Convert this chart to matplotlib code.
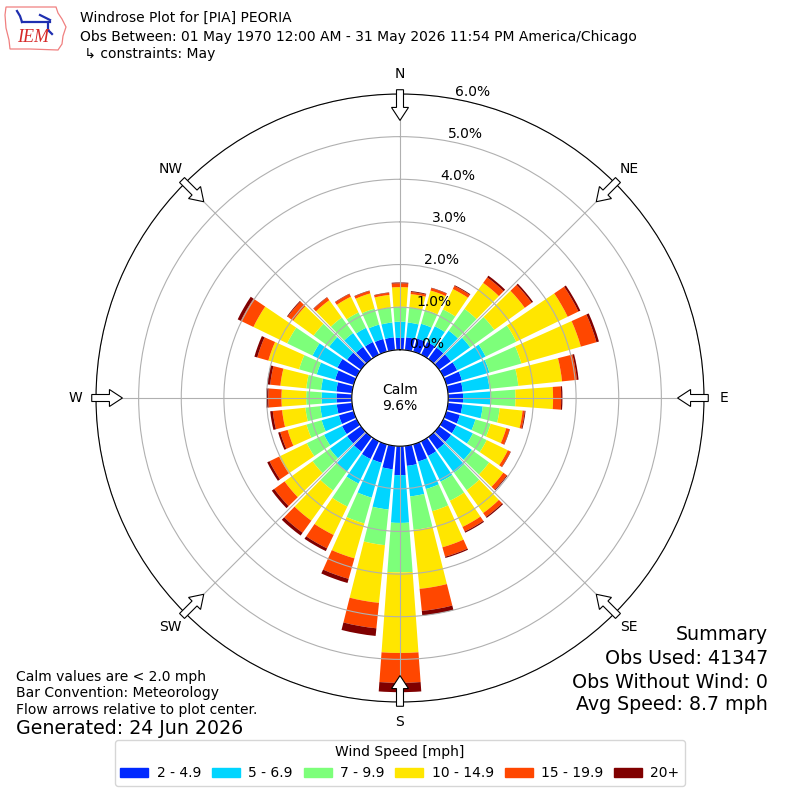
import numpy as np
import matplotlib
matplotlib.use('Agg')
import matplotlib.pyplot as plt
from matplotlib.patches import Patch, FancyArrow, Polygon
from matplotlib.lines import Line2D
from matplotlib.transforms import IdentityTransform

# direction bins (deg, meteorology convention), 10 deg wide
directions = np.arange(0, 360, 10)

# percent of all obs per direction bin, one list per speed class
spd_2_5 = [.28, .30, .32, .33, .33, .34, .36, .38, .35, .35, .34, .33,
           .34, .35, .36, .38, .42, .47, .68, .55, .45, .46, .42, .40,
           .38, .36, .36, .36, .37, .45, .50, .40, .35, .33, .31, .30]
spd_5_7 = [.38, .35, .36, .41, .49, .56, .74, .67, .63, .64, .48, .38,
           .43, .60, .67, .67, .67, .72, 1.12, .95, .85, .64, .58, .50,
           .47, .42, .39, .35, .36, .45, .65, .52, .40, .37, .35, .35]
spd_7_10 = [.35, .35, .34, .44, .63, .70, .80, .78, .68, .59, .40, .37,
            .36, .50, .51, .50, .54, .79, 1.16, .84, .63, .60, .55, .50,
            .45, .37, .35, .36, .35, .43, .66, .45, .45, .40, .39, .35]
spd_10_15 = [.46, .32, .47, .53, .75, .88, 1.34, 1.45, 1.03, .88, .54, .38,
             .55, .41, .66, .68, .88, 1.39, 1.89, 1.36, .85, .74, .87, .81,
             .72, .46, .55, .58, .61, .75, .88, .59, .50, .41, .37, .30]
spd_15_20 = [.09, .05, .06, .08, .16, .20, .28, .38, .35, .19, .05, .08,
             .07, .10, .11, .12, .23, .52, .70, .60, .50, .35, .35, .30,
             .25, .18, .22, .31, .24, .27, .33, .16, .08, .07, .06, .05]
spd_20p = [.02, .02, .01, .02, .05, .04, .05, .06, .04, .03, .02, .01,
           .01, .02, .03, .03, .03, .11, .22, .18, .10, .07, .08, .07,
           .06, .05, .06, .05, .07, .07, .08, .02, .01, .01, .01, .01]

speed_labels = ['2 - 4.9', '5 - 6.9', '7 - 9.9', '10 - 14.9', '15 - 19.9', '20+']
calm_pct = 9.6
rings = [0, 1, 2, 3, 4, 5, 6]

series = [spd_2_5, spd_5_7, spd_7_10, spd_10_15, spd_15_20, spd_20p]
colors = plt.cm.jet(np.linspace(0, 1, 7))[1:]

fig = plt.figure(figsize=(8, 8), dpi=100)
ax = fig.add_axes([0.12, 0.1225, 0.76, 0.76], projection='polar')
ax.set_theta_zero_location('N')
ax.set_theta_direction(-1)
ax.set_ylim(0, 6)
ax.set_rorigin(-1.13)  # hole in the middle for calm

theta = np.deg2rad(directions)
bottom = np.zeros(len(directions))
for vals, col in zip(series, colors):
    vals = np.array(vals)
    ax.bar(theta, vals, width=np.deg2rad(8.3), bottom=bottom, color=col,
           edgecolor='none', zorder=1)
    bottom += vals

ax.set_rgrids(rings, labels=['%.1f%%' % r for r in rings], angle=10.5)
ax.set_thetagrids(range(0, 360, 45), ['N', 'NE', 'E', 'SE', 'S', 'SW', 'W', 'NW'])
ax.tick_params(axis='x', pad=4, labelsize=10)
ax.tick_params(axis='y', labelsize=10)
ax.grid(True, color='#b0b0b0', lw=0.8)

# flow arrows around the edge (drawn in pixel space)
fig.canvas.draw()
for a in range(0, 360, 45):
    th = np.deg2rad(a)
    x0, y0 = ax.transData.transform((th, 6.1))
    x1, y1 = ax.transData.transform((th, 5.38))
    arr = FancyArrow(x0, y0, x1 - x0, y1 - y0, width=7, head_width=17,
                     head_length=13, length_includes_head=True,
                     fc='white', ec='black', lw=0.8,
                     transform=IdentityTransform(), zorder=5)
    fig.add_artist(arr)

fig.text(0.5, 1 - 398 / 800., 'Calm\n%.1f%%' % calm_pct, ha='center',
         va='center', fontsize=10)

# header
fig.text(0.1, 0.9775, 'Windrose Plot for [PIA] PEORIA', va='center', fontsize=10)
fig.text(0.1, 0.95375, 'Obs Between: 01 May 1970 12:00 AM - 31 May 2026 11:54 PM America/Chicago',
         va='center', fontsize=10)
fig.text(0.1, 0.9325, ' \u21b3 constraints: May', va='center', fontsize=10)

# logo (rough)
iowa = [(6, 7), (56, 7), (58, 13), (62, 19), (66, 27), (63, 36), (62, 44),
        (58, 50), (30, 49), (10, 49), (9, 40), (6, 28), (5, 15)]
fig.add_artist(Polygon([(x, 800 - y) for x, y in iowa], closed=True, fill=False,
                       ec='#f08080', lw=0.9, transform=IdentityTransform()))
for xs, ys in [([17, 20, 22], [11, 16, 22]), ([22, 50], [22, 22]),
               ([40, 46, 50], [15, 18, 20]), ([48, 48, 52], [22, 30, 34])]:
    fig.add_artist(Line2D(xs, [800 - y for y in ys], color='#1f2fb0', lw=1.6,
                          transform=IdentityTransform()))
fig.text(17 / 800., 1 - 38 / 800., 'IEM', color='#d62828', fontsize=13,
         family='Liberation Serif', style='italic', va='center')

# notes, bottom left
fig.text(0.02, 1 - 677 / 800., 'Calm values are < 2.0 mph', va='center', fontsize=10)
fig.text(0.02, 1 - 693 / 800., 'Bar Convention: Meteorology', va='center', fontsize=10)
fig.text(0.02, 1 - 710 / 800., 'Flow arrows relative to plot center.', va='center', fontsize=10)
fig.text(0.02, 1 - 729 / 800., 'Generated: 24 Jun 2026', va='center', fontsize=13.7)

# summary, bottom right
fig.text(0.96, 1 - 635 / 800., 'Summary', ha='right', va='center', fontsize=13.7)
fig.text(0.96, 1 - 659 / 800., 'Obs Used: 41347', ha='right', va='center', fontsize=13.7)
fig.text(0.96, 1 - 682 / 800., 'Obs Without Wind: 0', ha='right', va='center', fontsize=13.7)
fig.text(0.96, 1 - 705 / 800., 'Avg Speed: 8.7 mph', ha='right', va='center', fontsize=13.7)

handles = [Patch(color=c) for c in colors]
fig.legend(handles, speed_labels, loc='lower center', bbox_to_anchor=(0.5, 0.009),
           ncol=6, title='Wind Speed [mph]', fontsize=10, title_fontsize=10,
           handletextpad=0.6, columnspacing=0.8)

fig.savefig('out.png', dpi=100)
